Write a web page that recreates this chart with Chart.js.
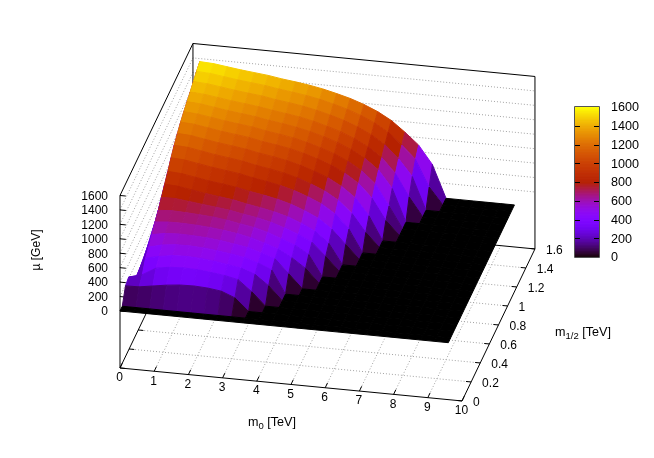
<!DOCTYPE html>
<html>
<head>
<meta charset="utf-8">
<title>mu surface</title>
<script src="https://cdn.jsdelivr.net/npm/chart.js@4"></script>
<style>
  html, body { margin: 0; padding: 0; background: #fff; }
  canvas { display: block; }
</style>
</head>
<body>
<canvas id="muChart" width="654" height="458"></canvas>
<script>
// grid of the scan, TeV
const m0Values = [0, 0.4, 0.8, 1.2, 1.6, 2, 2.4, 2.8, 3.2, 3.6, 4, 4.4, 4.8, 5.2, 5.6, 6, 6.4, 6.8, 7.2, 7.6, 8, 8.4, 8.8, 9.2, 9.6];
const m12Values = [0, 0.05, 0.12, 0.19, 0.26, 0.33, 0.4, 0.47, 0.54, 0.61, 0.68, 0.75, 0.82, 0.89, 0.96, 1.03, 1.1, 1.17, 1.24, 1.31, 1.38, 1.45];

// mu in GeV, one row per m1/2. Rows stop at the last
// non-zero value, everything after that is the black mu = 0 floor.
const muRows = [
  [],
  [],
  [190, 195, 225, 255, 275, 280, 270, 245, 170],
  [220, 270, 380, 410, 420, 415, 395, 370, 330, 180],
  [0, 408, 450, 480, 488, 478, 458, 428, 398, 330, 190],
  [0, 470, 517, 539, 541, 531, 511, 484, 454, 394, 316],
  [0, 550, 585, 595, 590, 580, 560, 530, 500, 440, 380, 190],
  [0, 634, 650, 651, 644, 631, 609, 582, 544, 486, 422, 320, 190],
  [0, 702, 716, 707, 697, 683, 658, 624, 593, 542, 472, 402, 290],
  [0, 790, 792, 770, 747, 726, 701, 665, 635, 592, 529, 459, 369, 190],
  [0, 880, 868, 837, 806, 780, 755, 715, 683, 644, 592, 520, 429, 280],
  [0, 965, 952, 921, 889, 864, 837, 797, 765, 726, 674, 603, 517, 382, 190],
  [0, 1061, 1049, 1017, 985, 959, 933, 893, 861, 823, 772, 704, 623, 503, 311],
  [0, 1144, 1131, 1100, 1067, 1041, 1015, 974, 943, 906, 856, 789, 710, 599, 434, 190],
  [0, 1215, 1203, 1171, 1140, 1115, 1089, 1051, 1021, 985, 937, 874, 802, 700, 561, 330],
  [0, 1279, 1267, 1237, 1207, 1182, 1158, 1120, 1092, 1058, 1012, 953, 885, 792, 669, 479, 190],
  [0, 1330, 1318, 1289, 1260, 1236, 1212, 1176, 1148, 1115, 1071, 1015, 951, 864, 751, 587, 300],
  [0, 1377, 1366, 1337, 1309, 1286, 1263, 1229, 1203, 1170, 1129, 1076, 1015, 935, 831, 686, 450],
  [0, 1419, 1408, 1381, 1354, 1331, 1309, 1276, 1250, 1220, 1180, 1129, 1072, 995, 899, 767, 566, 260],
  [0, 1472, 1461, 1435, 1408, 1386, 1365, 1333, 1308, 1279, 1240, 1192, 1137, 1065, 974, 853, 676, 450],
  [0, 1521, 1511, 1485, 1459, 1438, 1418, 1387, 1363, 1335, 1299, 1252, 1199, 1131, 1047, 935, 777, 595, 230],
  [0, 1565, 1555, 1530, 1505, 1485, 1465, 1435, 1412, 1385, 1350, 1305, 1255, 1190, 1110, 1005, 860, 700, 450]
];

const m0Ticks = [0, 1, 2, 3, 4, 5, 6, 7, 8, 9, 10];
const m12Ticks = [0, 0.2, 0.4, 0.6, 0.8, 1, 1.2, 1.4, 1.6];
const muTicks = [0, 200, 400, 600, 800, 1000, 1200, 1400, 1600];

const FONT = '"Liberation Sans", Arial, sans-serif';
const m0Max = 10, m12Max = 1.6, muMax = 1600, muFloor = -789;

// gnuplot style view, flattened to a linear projection
const view = { x0: 120, y0: 311, xM0: 34.2, yM0: 3.3, xM12: 45.6, yM12: -95, yMu: -0.0722 };

function project(m0, m12, mu) {
  return {
    x: view.x0 + view.xM0 * m0 + view.xM12 * m12,
    y: view.y0 + view.yM0 * m0 + view.yM12 * m12 + view.yMu * mu
  };
}

// pm3d default palette 7,5,15
function palette(mu) {
  const t = Math.min(Math.max(mu / muMax, 0), 1);
  const r = Math.sqrt(t);
  const g = t * t * t;
  const b = Math.max(Math.sin(2 * Math.PI * t), 0);
  return "rgb(" + Math.round(r * 255) + "," + Math.round(g * 255) + "," + Math.round(b * 255) + ")";
}

function muAt(j, i) {
  return muRows[j][i] || 0;
}

const vertices = [];
m12Values.forEach(function (m12, j) {
  m0Values.forEach(function (m0, i) {
    vertices.push(project(m0, m12, muAt(j, i)));
  });
});

const surfacePlugin = {
  id: "surface",
  beforeDatasetsDraw(chart) {
    const ctx = chart.ctx;
    const sx = chart.scales.x, sy = chart.scales.y;

    function path(points) {
      ctx.beginPath();
      points.forEach(function (p, n) {
        const px = sx.getPixelForValue(p.x), py = sy.getPixelForValue(p.y);
        if (n === 0) ctx.moveTo(px, py); else ctx.lineTo(px, py);
      });
    }
    function line(a, b) {
      path([a, b]);
      ctx.stroke();
    }
    function label(text, at, dx, dy, align) {
      ctx.textAlign = align;
      ctx.fillText(text, sx.getPixelForValue(at.x) + dx, sy.getPixelForValue(at.y) + dy);
    }
    // text with a subscript, written left to right from x
    function subLabel(x, y, base, sub, rest) {
      ctx.textAlign = "left";
      ctx.font = "12.6px " + FONT;
      ctx.fillText(base, x, y);
      x += ctx.measureText(base).width;
      ctx.font = "9.5px " + FONT;
      ctx.fillText(sub, x, y + 3);
      x += ctx.measureText(sub).width;
      ctx.font = "12.6px " + FONT;
      ctx.fillText(rest, x, y);
    }

    ctx.save();
    ctx.lineCap = "butt";

    // dotted grid, floor and the two back walls
    ctx.strokeStyle = "#a2a2a2";
    ctx.lineWidth = 1;
    ctx.setLineDash([1, 2]);
    m0Ticks.slice(1, -1).forEach(function (t) {
      line(project(t, 0, muFloor), project(t, m12Max, muFloor));
    });
    m12Ticks.slice(1, -1).forEach(function (t) {
      line(project(0, t, muFloor), project(m0Max, t, muFloor));
    });
    muTicks.slice(0, -1).forEach(function (t) {
      path([project(0, 0, t), project(0, m12Max, t), project(m0Max, m12Max, t)]);
      ctx.stroke();
    });
    ctx.setLineDash([]);

    // box
    ctx.strokeStyle = "#000";
    path([project(0, 0, muMax), project(0, 0, muFloor), project(m0Max, 0, muFloor), project(m0Max, m12Max, muFloor), project(0, m12Max, muFloor), project(0, 0, muFloor)]);
    ctx.stroke();
    path([project(0, 0, muMax), project(0, m12Max, muMax), project(m0Max, m12Max, muMax), project(m0Max, m12Max, muFloor)]);
    ctx.stroke();
    line(project(0, m12Max, muMax), project(0, m12Max, muFloor));

    // tics
    m0Ticks.forEach(function (t) {
      line(project(t, 0, muFloor), project(t, 0.05, muFloor));
    });
    m12Ticks.forEach(function (t) {
      line(project(m0Max, t, muFloor), project(m0Max - 0.15, t, muFloor));
      line(project(0, t, muFloor), project(0.15, t, muFloor));
    });
    muTicks.forEach(function (t) {
      line(project(0, 0, t), project(0.17, 0, t));
    });

    // surface cells, far ones first
    const cells = [];
    for (let j = 0; j < m12Values.length - 1; j++) {
      for (let i = 0; i < m0Values.length - 1; i++) {
        const mean = (muAt(j, i) + muAt(j, i + 1) + muAt(j + 1, i) + muAt(j + 1, i + 1)) / 4;
        const ground = project((m0Values[i] + m0Values[i + 1]) / 2, (m12Values[j] + m12Values[j + 1]) / 2, 0).y;
        cells.push({ i: i, j: j, mean: mean, ground: ground });
      }
    }
    cells.sort(function (a, b) { return a.ground - b.ground; });
    ctx.lineWidth = 1;
    ctx.lineJoin = "round";
    cells.forEach(function (c) {
      const i = c.i, j = c.j;
      path([
        project(m0Values[i], m12Values[j], muAt(j, i)),
        project(m0Values[i + 1], m12Values[j], muAt(j, i + 1)),
        project(m0Values[i + 1], m12Values[j + 1], muAt(j + 1, i + 1)),
        project(m0Values[i], m12Values[j + 1], muAt(j + 1, i))
      ]);
      ctx.closePath();
      ctx.fillStyle = palette(c.mean);
      ctx.strokeStyle = ctx.fillStyle;
      ctx.fill();
      ctx.stroke();
    });

    // tic labels
    ctx.fillStyle = "#000";
    ctx.textBaseline = "middle";
    ctx.font = "12px " + FONT;
    m0Ticks.forEach(function (t) {
      label(String(t), project(t, 0, muFloor), -0.5, 10, "center");
    });
    m12Ticks.forEach(function (t) {
      label(String(t), project(m0Max, t, muFloor), 11, 2, "left");
    });
    muTicks.forEach(function (t) {
      label(String(t), project(0, 0, t), -12, 1, "right");
    });

    // axis titles
    subLabel(248, 423, "m", "0", " [TeV]");
    subLabel(555, 333, "m", "1/2", " [TeV]");
    ctx.save();
    ctx.translate(37, 250);
    ctx.rotate(-Math.PI / 2);
    ctx.textAlign = "center";
    ctx.font = "12px " + FONT;
    ctx.fillText("\u00b5 [GeV]", 0, 0);
    ctx.restore();

    // colour box
    const boxLeft = 575, boxRight = 599, boxTop = 107, boxBottom = 257;
    const barY = function (v) { return boxBottom - (boxBottom - boxTop) * v / muMax; };
    for (let v = 0; v < muMax; v += 4) {
      ctx.fillStyle = palette(v + 2);
      ctx.fillRect(boxLeft, barY(v + 4), boxRight - boxLeft, barY(v) - barY(v + 4) + 0.5);
    }
    ctx.strokeStyle = "#000";
    ctx.lineWidth = 1;
    muTicks.slice(1, -1).forEach(function (t) {
      const y = Math.round(barY(t)) + 0.5;
      ctx.beginPath();
      ctx.moveTo(boxLeft, y);
      ctx.lineTo(boxLeft + 5, y);
      ctx.moveTo(boxRight, y);
      ctx.lineTo(boxRight - 5, y);
      ctx.stroke();
    });
    ctx.strokeStyle = "#555";
    ctx.strokeRect(boxLeft - 0.5, boxTop - 0.5, boxRight - boxLeft + 1, boxBottom - boxTop + 1);
    ctx.fillStyle = "#000";
    ctx.textAlign = "left";
    muTicks.forEach(function (t) {
      ctx.fillText(String(t), 611, barY(t) + 1);
    });

    ctx.restore();
  }
};

new Chart(document.getElementById("muChart").getContext("2d"), {
  type: "scatter",
  data: {
    datasets: [{
      label: "mu [GeV]",
      data: vertices,
      pointRadius: 0,
      showLine: false
    }]
  },
  options: {
    responsive: false,
    animation: false,
    events: [],
    layout: { padding: 0 },
    plugins: { legend: { display: false }, tooltip: { enabled: false } },
    scales: {
      x: { type: "linear", min: 0, max: 654, display: false },
      y: { type: "linear", min: 0, max: 458, reverse: true, display: false }
    }
  },
  plugins: [surfacePlugin]
});
</script>
</body>
</html>
